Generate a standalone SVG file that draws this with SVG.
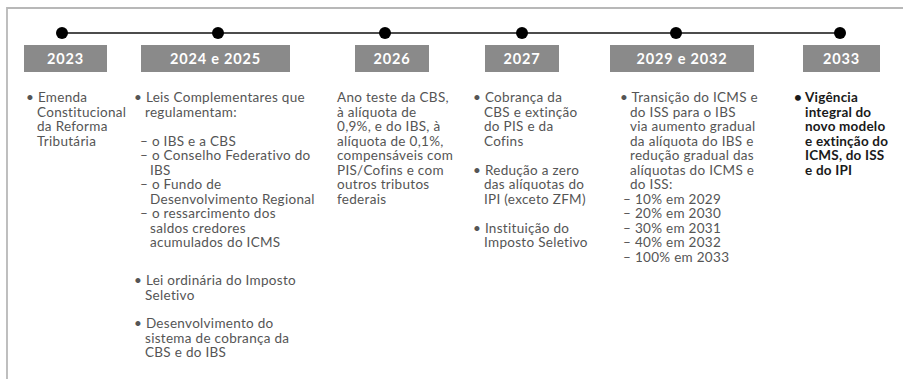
<svg xmlns="http://www.w3.org/2000/svg" width="903" height="379" viewBox="0 0 903 379">
<style>
.t{font-family:Lato,"Open Sans",sans-serif;font-size:13.5px;letter-spacing:0.3px;fill:#555}
.b{font-weight:bold;fill:#1a1a1a;letter-spacing:0.2px}
.h{font-family:Lato,sans-serif;font-weight:bold;font-size:14.5px;fill:#fff;text-anchor:middle;letter-spacing:0.8px}
.box{fill:#8a8a8a}
.dot{fill:#000}
</style>
<rect width="903" height="379" fill="#fff"/>
<path d="M7,379 V8 H903" fill="none" stroke="#b8b8b8" stroke-width="1.8"/>
<g id="connectors">
<line x1="62" y1="33" x2="840" y2="33" stroke="#111" stroke-width="1.5"/>
</g>
<g id="n2023">
<circle class="dot" cx="62" cy="33" r="6"/>
<rect class="box" x="24" y="45" width="83" height="27"/>
<text class="h" x="65.5" y="64">2023</text>
<text class="t"><tspan x="26" y="102">• Emenda</tspan><tspan x="37" y="116.5">Constitucional</tspan><tspan x="37" y="131">da Reforma</tspan><tspan x="37" y="145.5">Tributária</tspan></text>
</g>
<g id="n2024">
<circle class="dot" cx="218" cy="33" r="6"/>
<rect class="box" x="141" y="45" width="149" height="27"/>
<text class="h" x="215.5" y="64">2024 e 2025</text>
<text class="t"><tspan x="134" y="102">• Leis Complementares que</tspan><tspan x="145" y="116.5">regulamentam:</tspan><tspan x="140" y="145.5">– o IBS e a CBS</tspan><tspan x="140" y="160">– o Conselho Federativo do</tspan><tspan x="150" y="174.5">IBS</tspan><tspan x="140" y="189">– o Fundo de</tspan><tspan x="150" y="203.5">Desenvolvimento Regional</tspan><tspan x="140" y="218">– o ressarcimento dos</tspan><tspan x="150" y="232.5">saldos credores</tspan><tspan x="150" y="247">acumulados do ICMS</tspan><tspan x="134" y="285">• Lei ordinária do Imposto</tspan><tspan x="145" y="299.5">Seletivo</tspan><tspan x="134" y="328">• Desenvolvimento do</tspan><tspan x="145" y="342.5">sistema de cobrança da</tspan><tspan x="145" y="357">CBS e do IBS</tspan></text>
</g>
<g id="n2026">
<circle class="dot" cx="385" cy="33" r="6"/>
<rect class="box" x="355" y="45" width="74" height="27"/>
<text class="h" x="392" y="64">2026</text>
<text class="t"><tspan x="337" y="102">Ano teste da CBS,</tspan><tspan x="337" y="116.5">à alíquota de</tspan><tspan x="337" y="131">0,9%, e do IBS, à</tspan><tspan x="337" y="145.5">alíquota de 0,1%,</tspan><tspan x="337" y="160">compensáveis com</tspan><tspan x="337" y="174.5">PIS/Cofins e com</tspan><tspan x="337" y="189">outros tributos</tspan><tspan x="337" y="203.5">federais</tspan></text>
</g>
<g id="n2027">
<circle class="dot" cx="522" cy="33" r="6"/>
<rect class="box" x="485" y="45" width="74" height="27"/>
<text class="h" x="522" y="64">2027</text>
<text class="t"><tspan x="473" y="102">• Cobrança da</tspan><tspan x="484" y="116.5">CBS e extinção</tspan><tspan x="484" y="131">do PIS e da</tspan><tspan x="484" y="145.5">Cofins</tspan><tspan x="473" y="174.5">• Redução a zero</tspan><tspan x="484" y="189">das alíquotas do</tspan><tspan x="484" y="203.5">IPI (exceto ZFM)</tspan><tspan x="473" y="232.5">• Instituição do</tspan><tspan x="484" y="247">Imposto Seletivo</tspan></text>
</g>
<g id="n2029">
<circle class="dot" cx="676" cy="33" r="6"/>
<rect class="box" x="610" y="45" width="144" height="27"/>
<text class="h" x="682" y="64">2029 e 2032</text>
<text class="t"><tspan x="620" y="102">• Transição do ICMS e</tspan><tspan x="630" y="116.5">do ISS para o IBS</tspan><tspan x="630" y="131">via aumento gradual</tspan><tspan x="630" y="145.5">da alíquota do IBS e</tspan><tspan x="630" y="160">redução gradual das</tspan><tspan x="630" y="174.5">alíquotas do ICMS e</tspan><tspan x="630" y="189">do ISS:</tspan><tspan x="623" y="203.5">– 10% em 2029</tspan><tspan x="623" y="218">– 20% em 2030</tspan><tspan x="623" y="232.5">– 30% em 2031</tspan><tspan x="623" y="247">– 40% em 2032</tspan><tspan x="623" y="261.5">– 100% em 2033</tspan></text>
</g>
<g id="n2033">
<circle class="dot" cx="840" cy="33" r="6"/>
<rect class="box" x="803" y="45" width="77" height="27"/>
<text class="h" x="841.5" y="64">2033</text>
<text class="t b"><tspan x="794" y="102">• Vigência</tspan><tspan x="805" y="116.5">integral do</tspan><tspan x="805" y="131">novo modelo</tspan><tspan x="805" y="145.5">e extinção do</tspan><tspan x="805" y="160">ICMS, do ISS</tspan><tspan x="805" y="174.5">e do IPI</tspan></text>
</g>
</svg>
